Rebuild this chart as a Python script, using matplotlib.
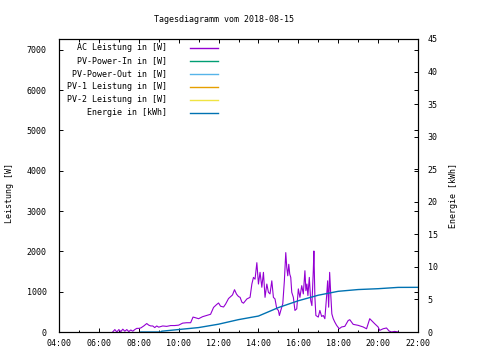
import matplotlib
matplotlib.use("Agg")
import matplotlib.pyplot as plt
from matplotlib.lines import Line2D

# AC Leistung (Zeit in Stunden, Leistung in W)
ac_zeit = [6.69, 6.8, 6.9, 7.0, 7.1, 7.2, 7.3, 7.4, 7.5, 7.6, 7.7, 7.8, 7.9, 8.0,
           8.1, 8.25, 8.4, 8.5, 8.6, 8.7, 8.8, 8.9, 9.0, 9.2, 9.4, 9.6, 9.8, 10.0,
           10.2, 10.4, 10.6, 10.72, 10.8, 11.0, 11.2, 11.4, 11.6, 11.75, 11.9, 12.0,
           12.1, 12.25, 12.35, 12.5, 12.7, 12.8, 12.9, 13.0, 13.08, 13.17, 13.25,
           13.42, 13.58, 13.67, 13.75, 13.83, 13.92, 14.0, 14.08, 14.17, 14.25,
           14.33, 14.42, 14.5, 14.58, 14.67, 14.75, 14.83, 14.92, 15.0, 15.05,
           15.12, 15.22, 15.3, 15.37, 15.42, 15.47, 15.52, 15.57, 15.62, 15.67,
           15.75, 15.83, 15.92, 16.0, 16.08, 16.17, 16.25, 16.33, 16.38, 16.43,
           16.48, 16.55, 16.62, 16.68, 16.75, 16.78, 16.83, 16.88, 17.0, 17.08,
           17.17, 17.25, 17.33, 17.42, 17.47, 17.52, 17.57, 17.62, 17.68, 17.75,
           17.83, 17.92, 18.05, 18.17, 18.33, 18.5, 18.58, 18.75, 19.0, 19.25,
           19.42, 19.58, 19.67, 19.83, 20.0, 20.08, 20.25, 20.42, 20.55, 20.67,
           20.83, 21.0]
ac_leistung = [0, 60, 0, 60, 10, 70, 20, 60, 10, 50, 20, 60, 90, 90,
               100, 150, 210, 170, 150, 150, 110, 150, 120, 150, 140, 160, 160, 170,
               220, 230, 230, 370, 360, 330, 380, 410, 440, 610, 680, 720,
               640, 620, 690, 830, 920, 1050, 940, 880, 860, 740, 715,
               820, 860, 1190, 1355, 1310, 1720, 1190, 1480, 1110, 1480,
               860, 1190, 985, 945, 1270, 860, 820, 575, 535, 410,
               535, 700, 1270, 1970, 1600, 1395, 1680, 1435, 1355, 985,
               860, 535, 575, 1070, 860, 1150, 945, 1520, 1025, 1190,
               905, 1355, 780, 655, 1520, 2010, 860, 410, 370, 535,
               385, 410, 330, 905, 1270, 615, 1480, 985, 450, 330,
               245, 165, 80, 125, 140, 285, 305, 190, 165, 125,
               80, 330, 285, 205, 125, 40, 80, 100, 25, 0,
               15, 0]

# Energie (kWh)
en_zeit = [8.1, 9.1, 9.15, 10.0, 11.0, 12.0, 13.0, 14.0, 15.0, 16.0, 17.0,
           18.0, 19.0, 20.0, 21.0, 22.0]
en_wert = [0.0, 0.0, 0.12, 0.38, 0.68, 1.2, 1.9, 2.45, 3.75, 4.8, 5.65,
           6.25, 6.52, 6.65, 6.85, 6.86]

x_ticks = [4, 6, 8, 10, 12, 14, 16, 18, 20, 22]
x_labels = ["04:00", "06:00", "08:00", "10:00", "12:00", "14:00",
            "16:00", "18:00", "20:00", "22:00"]
y1_ticks = [0, 1000, 2000, 3000, 4000, 5000, 6000, 7000]
y2_ticks = [0, 5, 10, 15, 20, 25, 30, 35, 40, 45]

legende = [
    ("AC Leistung in [W]", "#9400d3"),
    ("PV-Power-In in [W]", "#009e73"),
    ("PV-Power-Out in [W]", "#56b4e9"),
    ("PV-1 Leistung in [W]", "#e69f00"),
    ("PV-2 Leistung in [W]", "#f0e442"),
    ("Energie in [kWh]", "#0072b2"),
]

plt.rcParams["font.family"] = ["DejaVu Sans Mono"]
fs = 6

fig = plt.figure(figsize=(4.8, 3.6), dpi=100)
ax = fig.add_axes([59 / 480, 28 / 360, 359 / 480, 293 / 360])
ax2 = ax.twinx()

ax.plot(ac_zeit, ac_leistung, color="#9400d3", lw=0.8)
ax2.plot(en_zeit, en_wert, color="#0072b2", lw=1.0)

ax.set_xlim(4, 22)
ax.set_ylim(0, 7270)
ax2.set_ylim(0, 45)

ax.set_xticks(x_ticks)
ax.set_xticklabels(x_labels)
ax.set_xticks(range(5, 22, 2), minor=True)
ax.set_yticks(y1_ticks)
ax.set_yticklabels([str(v) for v in y1_ticks])
ax2.set_yticks(y2_ticks)
ax2.set_yticklabels([str(v) for v in y2_ticks])

ax.tick_params(axis="x", which="both", direction="in", top=True, labelsize=fs, pad=5)
ax.tick_params(axis="x", which="major", length=3, width=0.7)
ax.tick_params(axis="x", which="minor", length=1.8, width=0.7)
# linke Ticks auch rechts gespiegelt
ax.tick_params(axis="y", which="major", direction="in", right=True, length=3,
               width=0.7, labelsize=fs, pad=9)
ax2.tick_params(axis="y", which="major", direction="in", length=3, width=0.7,
                labelsize=fs, pad=7)
for a in (ax, ax2):
    for s in a.spines.values():
        s.set_linewidth(0.8)

# Legende oben links, Text rechtsbuendig
for i, (name, farbe) in enumerate(legende):
    y = 1 - (8.5 + 13 * i) / 293
    ax.text(108 / 359, y, name, transform=ax.transAxes, ha="right",
            va="center", fontsize=fs)
    ax.add_line(Line2D([131 / 359, 159 / 359], [y, y], transform=ax.transAxes,
                       color=farbe, lw=1.0))

fig.text(224 / 480, 1 - 19 / 360, "Tagesdiagramm vom 2018-08-15",
         ha="center", va="center", fontsize=fs)
fig.text(10 / 480, 1 - 193 / 360, "Leistung [W]", rotation=90,
         ha="center", va="center", fontsize=fs)
fig.text(453 / 480, 1 - 195 / 360, "Energie [kWh]", rotation=90,
         ha="center", va="center", fontsize=fs)

fig.savefig("out.png", dpi=100)
